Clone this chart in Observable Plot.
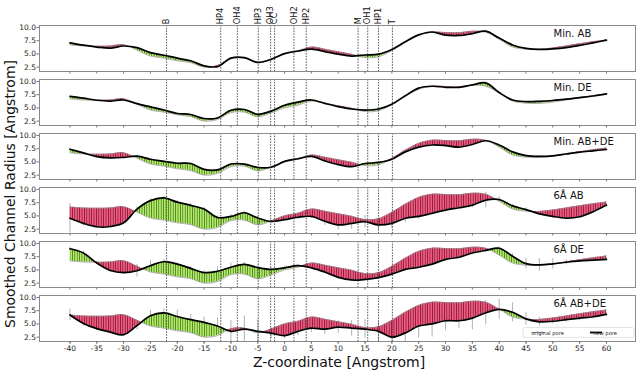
<!DOCTYPE html>
<html><head><meta charset="utf-8">
<script src="https://cdn.jsdelivr.net/npm/d3@7"></script>
<script src="https://cdn.jsdelivr.net/npm/@observablehq/plot@0.6"></script>
<style>
html,body{margin:0;padding:0;background:#fff;}
#chart{width:642px;height:371px;position:relative;}
</style></head>
<body>
<svg width="0" height="0" style="position:absolute">
<defs>
<pattern id="hatchR" patternUnits="userSpaceOnUse" width="2.4" height="8">
<rect width="2.4" height="8" fill="#ee5c80"/>
<rect x="0" width="0.75" height="8" fill="#7e1232"/>
</pattern>
<pattern id="hatchG" patternUnits="userSpaceOnUse" width="2.4" height="8">
<rect width="2.4" height="8" fill="#b0ec68"/>
<rect x="0" width="0.75" height="8" fill="#46751c"/>
</pattern>
</defs></svg>
<div id="chart"></div>
<script>
const panels = ["Min. AB", "Min. DE", "Min. AB+DE", "6Å AB", "6Å DE", "6Å AB+DE"];
const zs = [-40, -37.5, -35, -32.5, -30, -27.5, -25, -22.5, -20, -17.5, -15, -12.5, -10, -7.5, -5, -2.5, 0, 2.5, 5, 7.5, 10, 12.5, 15, 17.5, 20, 22.5, 25, 27.5, 30, 32.5, 35, 37.5, 40, 42.5, 45, 47.5, 50, 52.5, 55, 57.5, 60];
const originalPore = [6.7, 6.5, 6.45, 6.5, 6.75, 5.7, 4.6, 4.2, 3.7, 3.35, 2.5, 2.8, 4.1, 4.2, 3.3, 4.05, 5.0, 5.5, 6.3, 5.9, 5.4, 4.95, 4.3, 4.45, 5.65, 7.2, 8.5, 9.1, 9.05, 9.0, 9.3, 9.1, 7.8, 6.3, 5.9, 5.85, 6.1, 6.5, 6.9, 7.3, 7.65];
const newMinAB = [7.1, 6.65, 6.3, 6.1, 6.5, 6.2, 5.25, 4.75, 4.2, 3.7, 2.75, 2.6, 4.2, 4.3, 3.4, 3.95, 5.05, 5.55, 5.9, 5.45, 4.95, 4.6, 4.8, 4.95, 5.85, 7.3, 8.6, 9.15, 8.55, 8.5, 8.85, 9.3, 8.0, 6.7, 6.05, 5.85, 5.95, 6.2, 6.6, 7.1, 7.6];
const newMinDE = [7.2, 6.85, 6.45, 6.3, 6.5, 5.8, 5.2, 4.6, 3.95, 3.75, 3.0, 3.1, 4.55, 4.7, 3.8, 4.4, 5.5, 6.1, 6.5, 5.85, 5.25, 4.8, 4.6, 4.8, 5.7, 7.3, 8.75, 9.1, 8.9, 8.9, 9.35, 9.75, 7.9, 6.5, 6.2, 6.25, 6.4, 6.65, 6.95, 7.25, 7.65];
const newMinABDE = [7.4, 6.7, 6.0, 5.75, 5.85, 6.1, 5.5, 5.1, 4.75, 4.7, 3.6, 3.5, 4.6, 4.6, 3.95, 4.0, 5.1, 5.6, 6.05, 5.2, 4.5, 4.1, 4.7, 4.9, 5.5, 6.9, 7.8, 8.2, 8.1, 7.8, 8.3, 9.0, 8.2, 6.9, 6.2, 6.05, 6.15, 6.5, 6.85, 7.1, 7.35];
const new6AB = [4.55, 3.6, 2.95, 3.0, 3.7, 6.3, 7.9, 8.4, 7.6, 7.0, 6.3, 4.7, 4.9, 5.6, 4.6, 3.95, 4.3, 4.75, 4.9, 4.0, 3.3, 3.6, 3.9, 3.3, 3.6, 4.55, 4.9, 5.5, 6.1, 6.55, 7.05, 8.0, 8.1, 6.9, 6.2, 5.4, 4.9, 4.6, 4.85, 5.8, 7.05];
const new6DE = [9.0, 8.2, 6.3, 4.9, 4.5, 4.85, 5.8, 6.55, 6.1, 5.3, 4.5, 4.75, 5.5, 6.05, 5.45, 5.1, 5.4, 5.8, 5.4, 4.6, 3.6, 3.1, 3.2, 3.55, 4.2, 5.1, 5.5, 6.1, 7.0, 7.4, 8.2, 8.7, 9.1, 7.6, 6.2, 5.95, 6.15, 6.45, 6.7, 6.85, 7.0];
const new6ABDE = [6.7, 5.1, 4.1, 3.45, 2.95, 4.7, 6.55, 7.1, 6.4, 5.8, 5.3, 4.6, 3.6, 4.0, 3.6, 3.25, 2.8, 3.6, 4.2, 4.0, 4.4, 4.2, 4.0, 3.6, 2.5, 3.3, 4.6, 5.0, 5.6, 5.6, 6.1, 7.1, 7.75, 7.2, 5.95, 5.4, 5.5, 5.8, 6.1, 6.35, 6.8];
const std6AB = [2.8, 0.5, 0.3, 0.3, 0.3, 0.3, 0.3, 0.3, 0.3, 0.3, 0.3, 0.3, 0.3, 0.3, 0.3, 0.3, 0.3, 0.3, 0.3, 0.8, 1.0, 1.1, 1.2, 1.0, 1.0, 0.8, 0.5, 0.4, 0.3, 0.3, 0.5, 1.5, 0.5, 0.3, 0.3, 0.3, 0.3, 0.3, 0.3, 0.3, 0.3];
const std6DE = [0.3, 0.3, 0.3, 0.3, 0.3, 1.2, 1.0, 0.4, 0.3, 0.3, 0.3, 0.8, 0.8, 0.4, 0.3, 0.3, 0.3, 0.3, 0.3, 0.3, 0.3, 0.3, 0.3, 0.3, 0.3, 0.3, 0.3, 0.3, 0.3, 0.3, 0.3, 0.3, 0.3, 0.5, 1.0, 1.2, 1.0, 0.5, 0.3, 0.3, 0.3];
const std6ABDE = [1.1, 0.5, 0.4, 0.3, 0.3, 0.8, 1.0, 0.7, 1.2, 1.0, 1.0, 1.5, 2.0, 2.5, 2.2, 1.0, 0.6, 0.8, 0.8, 1.0, 1.2, 1.5, 1.8, 1.8, 1.5, 2.0, 2.3, 2.5, 1.9, 1.5, 2.2, 2.3, 1.9, 1.8, 1.2, 0.8, 0.5, 0.5, 0.5, 0.4, 0.3];
const markerZ = [-22.0, -11.9, -8.8, -4.9, -2.6, -1.86, 1.74, 4.04, 13.7, 15.5, 17.5, 20.1];
const markerNames = ["B", "HP4", "OH4", "HP3", "OH3", "CC", "OH2", "HP2", "M", "OH1", "HP1", "T"];
const xTicks = [-40, -35, -30, -25, -20, -15, -10, -5, 0, 5, 10, 15, 20, 25, 30, 35, 40, 45, 50, 55, 60];
const yTicks = [2.5, 5.0, 7.5, 10.0];

const newSeries = [newMinAB, newMinDE, newMinABDE, new6AB, new6DE, new6ABDE];
const stdSeries = [null, null, null, std6AB, std6DE, std6ABDE];
const rows = panels.flatMap((p, k) => zs.map((z, i) => ({
  panel: p, z, orig: originalPore[i], neu: newSeries[k][i],
  err: stdSeries[k] ? stdSeries[k][i] : 0
})));
const errRows = rows.filter(d => d.err > 0);
const CURVE = "catmull-rom";

function diffMarks() {
  if (Plot.differenceY) {
    return [Plot.differenceY(rows, {
      x: "z", y1: "orig", y2: "neu", fy: "panel", z: "panel",
      positiveFill: "url(#hatchG)", negativeFill: "url(#hatchR)",
      fillOpacity: 1, positiveFillOpacity: 1, negativeFillOpacity: 1,
      stroke: "none", curve: CURVE
    })];
  }
  const seg = [];
  panels.forEach((p, k) => {
    for (let i = 0; i < zs.length - 1; i++) {
      const s = (newSeries[k][i] + newSeries[k][i + 1]) - (originalPore[i] + originalPore[i + 1]);
      [i, i + 1].forEach(j => seg.push({panel: p, id: p + i, z: zs[j], orig: originalPore[j], neu: newSeries[k][j], pos: s > 0}));
    }
  });
  return [Plot.areaY(seg, {x: "z", y1: "orig", y2: "neu", fy: "panel", z: "id",
    fill: d => d.pos ? "url(#hatchG)" : "url(#hatchR)"})];
}

const chart = Plot.plot({
  width: 642, height: 371,
  marginLeft: 39, marginRight: 7, marginTop: 24.3, marginBottom: 29.3,
  style: {fontFamily: "DejaVu Sans", fontSize: "7.5px", color: "#222", background: "#fff", overflow: "visible"},
  x: {domain: [-45.68, 65.41]},
  y: {domain: [1.675, 10.375]},
  fy: {domain: panels, axis: null, paddingInner: 0.144, paddingOuter: 0, label: null},
  marks: [
    Plot.ruleX(errRows, {x: "z", y1: d => d.neu - d.err, y2: d => d.neu + d.err, fy: "panel",
      stroke: "#a8a8a8", strokeWidth: 0.9, clip: true}),
    ...diffMarks(),
    Plot.lineY(rows, {x: "z", y: "orig", fy: "panel", z: "panel", stroke: "#8c8c8c", strokeWidth: 0.7, curve: CURVE}),
    Plot.lineY(rows, {x: "z", y: "neu", fy: "panel", z: "panel", stroke: "#000", strokeWidth: 1.7, curve: CURVE}),
    Plot.ruleX(markerZ, {x: d => d, stroke: "#333", strokeWidth: 0.8, strokeDasharray: "1.6,1.2"}),
    Plot.text(markerZ, {x: d => d, text: (d, i) => markerNames[i], fy: () => panels[0],
      frameAnchor: "top", rotate: -90, textAnchor: "start", lineAnchor: "middle",
      dy: -1.2, fontSize: 8.3, fill: "#111"}),
    Plot.text(panels, {fy: d => d, text: d => d, frameAnchor: "top-left", dx: 514, dy: 8.5,
      textAnchor: "start", lineAnchor: "middle", fontSize: 10, fill: "#111"}),
    Plot.frame({stroke: "#8a8a8a", strokeWidth: 1}),
    Plot.axisY({ticks: yTicks, tickFormat: d3.format(".1f"), tickSize: 2.5, tickPadding: 1, label: null, stroke: "#777"}),
    Plot.axisX({ticks: xTicks, tickSize: 2.5, tickFormat: () => "", label: null, facetAnchor: null, stroke: "#777"}),
    Plot.axisX({ticks: xTicks, tickSize: 2.5, tickPadding: 2, tickFormat: d => String(d), label: null, stroke: "#777"})
  ]
});
document.getElementById("chart").appendChild(chart);

const svg = d3.select(chart);
svg.append("text").attr("x", 339).attr("y", 362).attr("text-anchor", "middle")
  .attr("dominant-baseline", "central").attr("font-size", 14).attr("fill", "#111")
  .text("Z-coordinate [Angstrom]");
svg.append("text").attr("transform", "translate(9.5,194) rotate(-90)").attr("text-anchor", "middle")
  .attr("dominant-baseline", "central").attr("font-size", 14).attr("fill", "#111")
  .text("Smoothed Channel Radius [Angstrom]");
const lg = svg.append("g");
lg.append("rect").attr("x", 523).attr("y", 327.6).attr("width", 111).attr("height", 9.8).attr("rx", 1.5)
  .attr("fill", "#fff").attr("fill-opacity", 0.85).attr("stroke", "#cfcfcf").attr("stroke-width", 0.6);
lg.append("line").attr("x1", 532).attr("x2", 545).attr("y1", 332.5).attr("y2", 332.5).attr("stroke", "#999").attr("stroke-width", 1.1);
lg.append("text").attr("x", 547.5).attr("y", 332.5).attr("dominant-baseline", "central").attr("font-size", 5.2).attr("fill", "#222").text("original pore");
lg.append("line").attr("x1", 590).attr("x2", 602).attr("y1", 332.5).attr("y2", 332.5).attr("stroke", "#000").attr("stroke-width", 1.8);
lg.append("text").attr("x", 605).attr("y", 332.5).attr("dominant-baseline", "central").attr("font-size", 5.2).attr("fill", "#222").text("new pore");
</script>
</body></html>
